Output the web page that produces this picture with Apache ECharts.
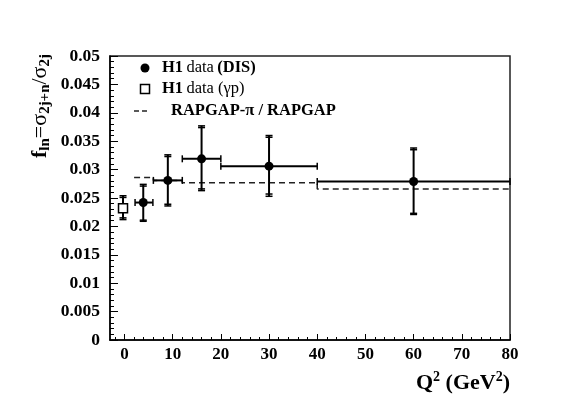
<!DOCTYPE html>
<html>
<head>
<meta charset="utf-8">
<script src="https://cdn.jsdelivr.net/npm/echarts@6/dist/echarts.min.js"></script>
<style>
  html, body { margin: 0; padding: 0; background: #fff; }
  #chart { width: 567px; height: 397px; }
</style>
</head>
<body>
<div id="chart"></div>
<script>
// H1 DIS points: Q2, bin edges, f value, outer (total) and inner error ends
const disQ2 = [3.9, 9, 16, 30, 60];
const disXlo = [2.2, 6, 12, 20, 40];
const disXhi = [5.9, 12, 20, 40, 80];
const disF = [0.0242, 0.0281, 0.0319, 0.0306, 0.0279];
const disLoTot = [0.0209, 0.0236, 0.0263, 0.0253, 0.0221];
const disHiTot = [0.0274, 0.0326, 0.0377, 0.0360, 0.0338];
const disLoIn = [0.0211, 0.0239, 0.0266, 0.0257, 0.0223];
const disHiIn = [0.0271, 0.0323, 0.0374, 0.0357, 0.0335];

// H1 photoproduction point
const gpQ2 = [-0.3];
const gpF = [0.0232];
const gpLoTot = [0.0212];
const gpHiTot = [0.0254];
const gpLoIn = [0.0215];
const gpHiIn = [0.0251];

// RAPGAP-pi / RAPGAP histogram
const rapEdges = [2, 6, 12, 20, 40, 80];
const rapVals = [0.0286, 0.0281, 0.0277, 0.0277, 0.0266];

const xMajor = [0, 10, 20, 30, 40, 50, 60, 70, 80];
const xMinor = [-2, 2, 4, 6, 8, 12, 14, 16, 18, 22, 24, 26, 28, 32, 34, 36, 38, 42, 44, 46, 48,
  52, 54, 56, 58, 62, 64, 66, 68, 72, 74, 76, 78];

const serif = '"Liberation Serif", "DejaVu Serif", serif';

const disData = disQ2.map((q, i) => [q, disF[i], disXlo[i], disXhi[i], disLoTot[i], disHiTot[i], disLoIn[i], disHiIn[i]]);
const gpData = gpQ2.map((q, i) => [q, gpF[i], q, q, gpLoTot[i], gpHiTot[i], gpLoIn[i], gpHiIn[i]]);

const rapData = [];
rapVals.forEach((v, i) => {
  rapData.push([rapEdges[i], v]);
  rapData.push([rapEdges[i + 1], v]);
});

function makeRender(marker) {
  return function (params, api) {
    const x = api.value(0), y = api.value(1);
    const c = api.coord([x, y]);
    const lo = api.coord([x, api.value(4)]);
    const hi = api.coord([x, api.value(5)]);
    const lo2 = api.coord([x, api.value(6)]);
    const hi2 = api.coord([x, api.value(7)]);
    const xl = api.coord([api.value(2), y]);
    const xh = api.coord([api.value(3), y]);
    const line = { stroke: '#000', lineWidth: 2 };
    const cap = { stroke: '#000', lineWidth: 1.5 };
    const w = 3.5;
    const kids = [
      { type: 'line', shape: { x1: c[0], y1: lo[1], x2: c[0], y2: hi[1] }, style: line },
      { type: 'line', shape: { x1: c[0] - w, y1: lo[1], x2: c[0] + w, y2: lo[1] }, style: cap },
      { type: 'line', shape: { x1: c[0] - w, y1: hi[1], x2: c[0] + w, y2: hi[1] }, style: cap },
      { type: 'line', shape: { x1: c[0] - w, y1: lo2[1], x2: c[0] + w, y2: lo2[1] }, style: cap },
      { type: 'line', shape: { x1: c[0] - w, y1: hi2[1], x2: c[0] + w, y2: hi2[1] }, style: cap }
    ];
    if (xh[0] - xl[0] > 1) {
      kids.push({ type: 'line', shape: { x1: xl[0], y1: c[1], x2: xh[0], y2: c[1] }, style: line });
      kids.push({ type: 'line', shape: { x1: xl[0], y1: c[1] - w, x2: xl[0], y2: c[1] + w }, style: cap });
      kids.push({ type: 'line', shape: { x1: xh[0], y1: c[1] - w, x2: xh[0], y2: c[1] + w }, style: cap });
    }
    if (marker === 'circle') {
      kids.push({ type: 'circle', shape: { cx: c[0], cy: c[1], r: 4.5 }, style: { fill: '#000' } });
    } else {
      kids.push({ type: 'rect', shape: { x: c[0] - 4.5, y: c[1] - 4.5, width: 9, height: 9 },
        style: { fill: '#fff', stroke: '#000', lineWidth: 1.5 } });
    }
    return { type: 'group', children: kids };
  };
}

const chart = echarts.init(document.getElementById('chart'));
chart.setOption({
  animation: false,
  grid: { left: 110, right: 57, top: 56, bottom: 57, show: true, borderColor: '#222', borderWidth: 1.5 },
  xAxis: [
    {
      type: 'value', min: -3, max: 80,
      axisLine: { onZero: false, lineStyle: { color: '#000', width: 1.5 } },
      axisTick: { inside: true, length: 6, customValues: xMajor, lineStyle: { color: '#000' } },
      axisLabel: { customValues: xMajor, margin: 6, color: '#000', fontFamily: serif, fontWeight: 'bold', fontSize: 17 },
      splitLine: { show: false }
    },
    {
      type: 'value', min: -3, max: 80, position: 'bottom',
      axisLine: { show: false, onZero: false },
      axisTick: { inside: true, length: 3, customValues: xMinor, lineStyle: { color: '#000' } },
      axisLabel: { show: false },
      splitLine: { show: false }
    }
  ],
  yAxis: {
    type: 'value', min: 0, max: 0.05, interval: 0.005,
    axisLine: { show: true, onZero: false, lineStyle: { color: '#000', width: 1.5 } },
    axisTick: { show: true, inside: true, length: 8, lineStyle: { color: '#000' } },
    minorTick: { show: true, splitNumber: 5, length: 4, lineStyle: { color: '#000' } },
    axisLabel: { margin: 10, color: '#000', fontFamily: serif, fontWeight: 'bold', fontSize: 17.5 },
    splitLine: { show: false }
  },
  series: [
    {
      name: 'RAPGAP', type: 'line', data: rapData, symbol: 'none', xAxisIndex: 0,
      lineStyle: { color: '#222', width: 1.5, type: [6, 4] }, z: 2
    },
    { name: 'DIS', type: 'custom', data: disData, renderItem: makeRender('circle'), xAxisIndex: 0, z: 3 },
    { name: 'gp', type: 'custom', data: gpData, renderItem: makeRender('square'), xAxisIndex: 0, z: 3 }
  ],
  graphic: [
    // legend
    { type: 'circle', shape: { cx: 145, cy: 68, r: 4.5 }, style: { fill: '#000' } },
    { type: 'rect', shape: { x: 140.5, y: 84.5, width: 9, height: 9 }, style: { fill: '#fff', stroke: '#000', lineWidth: 1.5 } },
    { type: 'line', shape: { x1: 134, y1: 111, x2: 139, y2: 111 }, style: { stroke: '#222', lineWidth: 1.5 } },
    { type: 'line', shape: { x1: 142, y1: 111, x2: 147, y2: 111 }, style: { stroke: '#222', lineWidth: 1.5 } },
    {
      type: 'text', x: 162, y: 68,
      style: {
        text: '{b|H1} {r|data} {b|(DIS)}', verticalAlign: 'middle',
        rich: { b: { fontFamily: serif, fontWeight: 'bold', fontSize: 16.5, fill: '#000' },
                r: { fontFamily: serif, fontSize: 16.5, fill: '#000' } }
      }
    },
    {
      type: 'text', x: 162, y: 89,
      style: {
        text: '{b|H1} {r|data (γp)}', verticalAlign: 'middle',
        rich: { b: { fontFamily: serif, fontWeight: 'bold', fontSize: 16.5, fill: '#000' },
                r: { fontFamily: serif, fontSize: 16.5, fill: '#000' } }
      }
    },
    {
      type: 'text', x: 171, y: 111,
      style: { text: 'RAPGAP-π / RAPGAP', verticalAlign: 'middle', fontFamily: serif, fontWeight: 'bold', fontSize: 16.5, fill: '#000' }
    },
    // y axis title
    {
      type: 'text', x: 40, y: 106, rotation: Math.PI / 2,
      style: {
        text: '{m|f}{s|ln}{r|=σ}{s|2j+n}{r|/σ}{s|2j}', align: 'center', verticalAlign: 'middle',
        rich: {
          m: { fontFamily: serif, fontWeight: 'bold', fontSize: 22, lineHeight: 26, fill: '#000' },
          r: { fontFamily: serif, fontSize: 22, lineHeight: 26, fill: '#000' },
          s: { fontFamily: serif, fontWeight: 'bold', fontSize: 15, lineHeight: 10, verticalAlign: 'bottom', fill: '#000' }
        }
      }
    },
    // x axis title
    {
      type: 'text', x: 510, y: 383,
      style: {
        text: '{m|Q}{p|2}{m| (GeV}{p|2}{m|)}', align: 'right', verticalAlign: 'middle',
        rich: {
          m: { fontFamily: serif, fontWeight: 'bold', fontSize: 22, lineHeight: 26, fill: '#000' },
          p: { fontFamily: serif, fontWeight: 'bold', fontSize: 14, lineHeight: 10, verticalAlign: 'top', fill: '#000' }
        }
      }
    }
  ]
});
</script>
</body>
</html>
